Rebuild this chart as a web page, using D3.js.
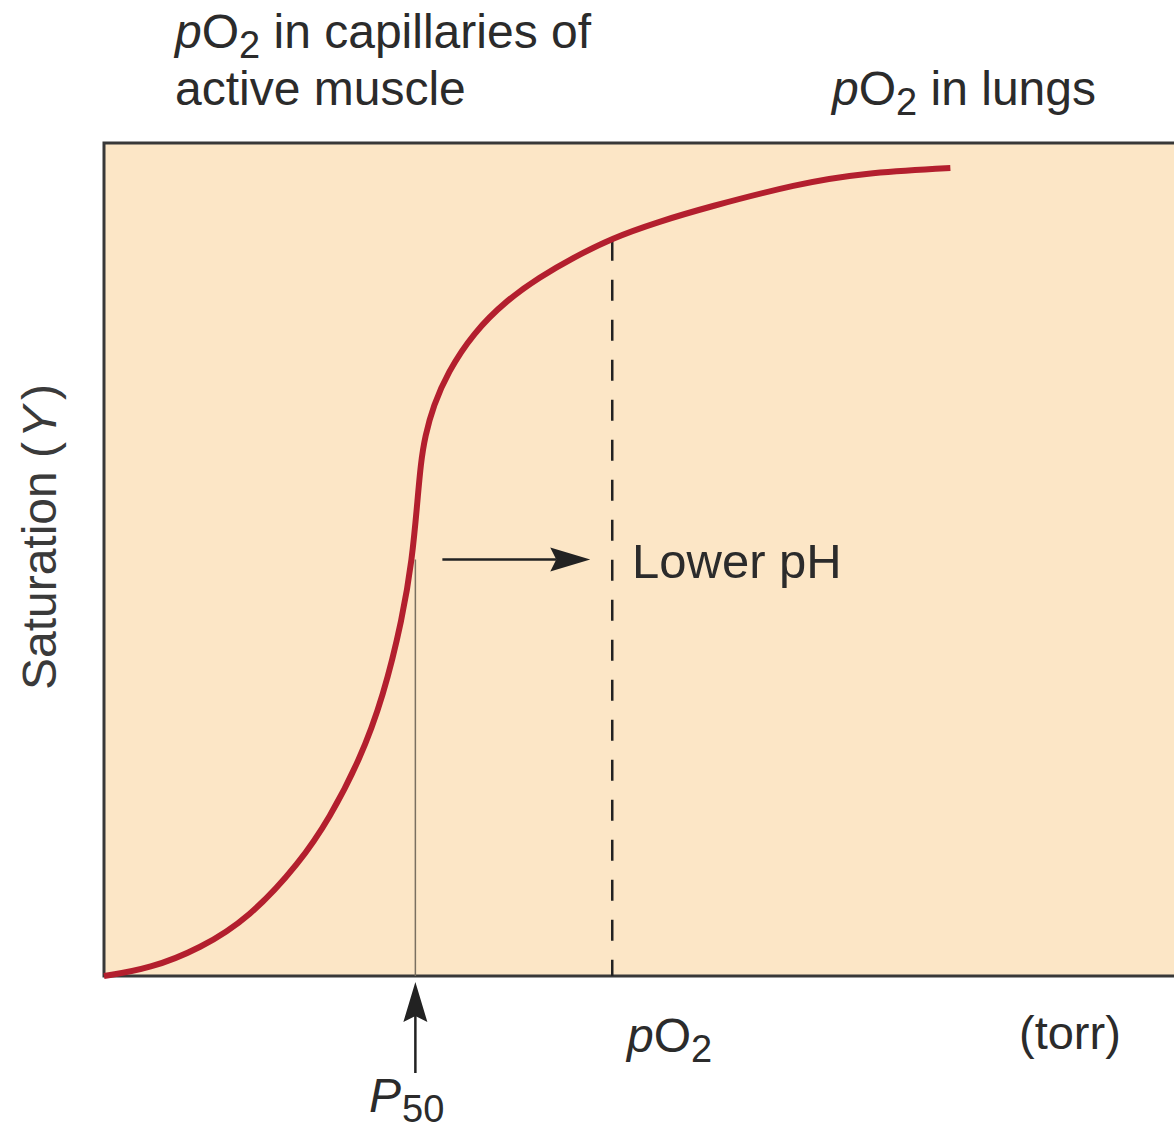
<!DOCTYPE html>
<html>
<head>
<meta charset="utf-8">
<script src="https://cdn.jsdelivr.net/npm/d3@7"></script>
<style>
  body { margin: 0; background: #ffffff; }
  text { font-family: "Liberation Sans", Arial, sans-serif; fill: #2b2b2b; }
</style>
</head>
<body>
<div id="chart"></div>
<script>
// oxygen binding curve (pO2 in arbitrary torr units, saturation 0..1)
const pO2 = [0, 4.3, 9.0, 13.6, 18.3, 21.1, 23.9, 26.1, 27.9, 28.8, 29.3, 29.6, 30.0, 30.8, 32.1, 34.5, 37.7, 40.7, 43.8, 47.5, 51.7, 56.4, 64.8, 70.9, 79.1];
const saturation = [0, 0.009, 0.033, 0.070, 0.136, 0.190, 0.259, 0.335, 0.43, 0.50, 0.571, 0.615, 0.648, 0.685, 0.724, 0.772, 0.812, 0.839, 0.862, 0.886, 0.905, 0.923, 0.951, 0.964, 0.970];

const p50 = 29.1;          // normal P50
const p50LowPH = 47.5;     // shifted position (lower pH)

const width = 1174;
const height = 1132;

const plotLeft = 104, plotRight = 1174, plotTop = 143, plotBottom = 976;

const svg = d3.select("#chart").append("svg")
    .attr("width", width)
    .attr("height", height);

const xScale = d3.scaleLinear().domain([0, 100]).range([plotLeft, plotRight]);
const yScale = d3.scaleLinear().domain([0, 1]).range([plotBottom, plotTop]);

const points = pO2.map((d, i) => [d, saturation[i]]);

// plot background
svg.append("rect")
    .attr("x", plotLeft)
    .attr("y", plotTop)
    .attr("width", plotRight - plotLeft + 5)
    .attr("height", plotBottom - plotTop)
    .attr("fill", "#fce6c6");

// frame: top, left, bottom (right edge is cut off)
svg.append("path")
    .attr("d", `M${width + 5},${plotTop} H${plotLeft} V${plotBottom} H${width + 5}`)
    .attr("fill", "none")
    .attr("stroke", "#383838")
    .attr("stroke-width", 3);

// thin line at P50
svg.append("line")
    .attr("x1", xScale(p50)).attr("x2", xScale(p50))
    .attr("y1", yScale(0.5)).attr("y2", plotBottom)
    .attr("stroke", "#7a7060")
    .attr("stroke-width", 1.5);

// dashed line for lower pH
svg.append("line")
    .attr("x1", xScale(p50LowPH)).attr("x2", xScale(p50LowPH))
    .attr("y1", yScale(0.884)).attr("y2", plotBottom)
    .attr("stroke", "#222")
    .attr("stroke-width", 2.5)
    .attr("stroke-dasharray", "21,19");

// the curve
const line = d3.line()
    .x((d) => xScale(d[0]))
    .y((d) => yScale(d[1]))
    .curve(d3.curveBasis);

svg.append("path")
    .datum(points)
    .attr("d", line)
    .attr("fill", "none")
    .attr("stroke", "#b31f2e")
    .attr("stroke-width", 6)
    .attr("stroke-linecap", "butt");

// arrows
function arrow(x1, y1, x2, y2) {
    const ang = Math.atan2(y2 - y1, x2 - x1);
    const len = 40, half = 12, notch = 34;
    svg.append("line")
        .attr("x1", x1).attr("y1", y1)
        .attr("x2", x2 - Math.cos(ang) * notch).attr("y2", y2 - Math.sin(ang) * notch)
        .attr("stroke", "#222")
        .attr("stroke-width", 2.5);
    const head = [
        [0, 0], [-len, -half], [-notch, 0], [-len, half]
    ].map(([a, b]) => [
        x2 + a * Math.cos(ang) - b * Math.sin(ang),
        y2 + a * Math.sin(ang) + b * Math.cos(ang)
    ]);
    svg.append("path")
        .attr("d", "M" + head.join("L") + "Z")
        .attr("fill", "#222");
}

arrow(xScale(p50) + 27, yScale(0.5), xScale(p50LowPH) - 22, yScale(0.5));
arrow(xScale(p50), 1073, xScale(p50), plotBottom + 6);

// texts
function pO2Label(x, y, rest) {
    const t = svg.append("text")
        .attr("x", x)
        .attr("y", y)
        .attr("font-size", 48);
    t.append("tspan").attr("font-style", "italic").text("p");
    t.append("tspan").text("O");
    t.append("tspan").attr("font-size", 38).attr("dy", 10).text("2");
    if (rest) t.append("tspan").attr("dy", -10).text(rest);
    return t;
}

pO2Label(175, 48, " in capillaries of");
svg.append("text").attr("x", 175).attr("y", 105).attr("font-size", 48).text("active muscle");
pO2Label(832, 105, " in lungs");
pO2Label(627, 1052);

svg.append("text")
    .attr("x", 1019).attr("y", 1049)
    .attr("font-size", 47)
    .text("(torr)");

svg.append("text")
    .attr("x", 632).attr("y", 578)
    .attr("font-size", 49)
    .text("Lower pH");

const p50Text = svg.append("text")
    .attr("x", 369).attr("y", 1112)
    .attr("font-size", 48);
p50Text.append("tspan").attr("font-style", "italic").text("P");
p50Text.append("tspan").attr("font-size", 38).attr("dy", 10).attr("dx", 1).text("50");

const yLabel = svg.append("text")
    .attr("transform", "translate(56,537) rotate(-90)")
    .attr("text-anchor", "middle")
    .attr("font-size", 48)
    .style("fill", "#3a3a3a");
yLabel.append("tspan").text("Saturation (");
yLabel.append("tspan").attr("font-style", "italic").attr("dx", 4).text("Y");
yLabel.append("tspan").attr("dx", 6).text(")");
</script>
</body>
</html>
